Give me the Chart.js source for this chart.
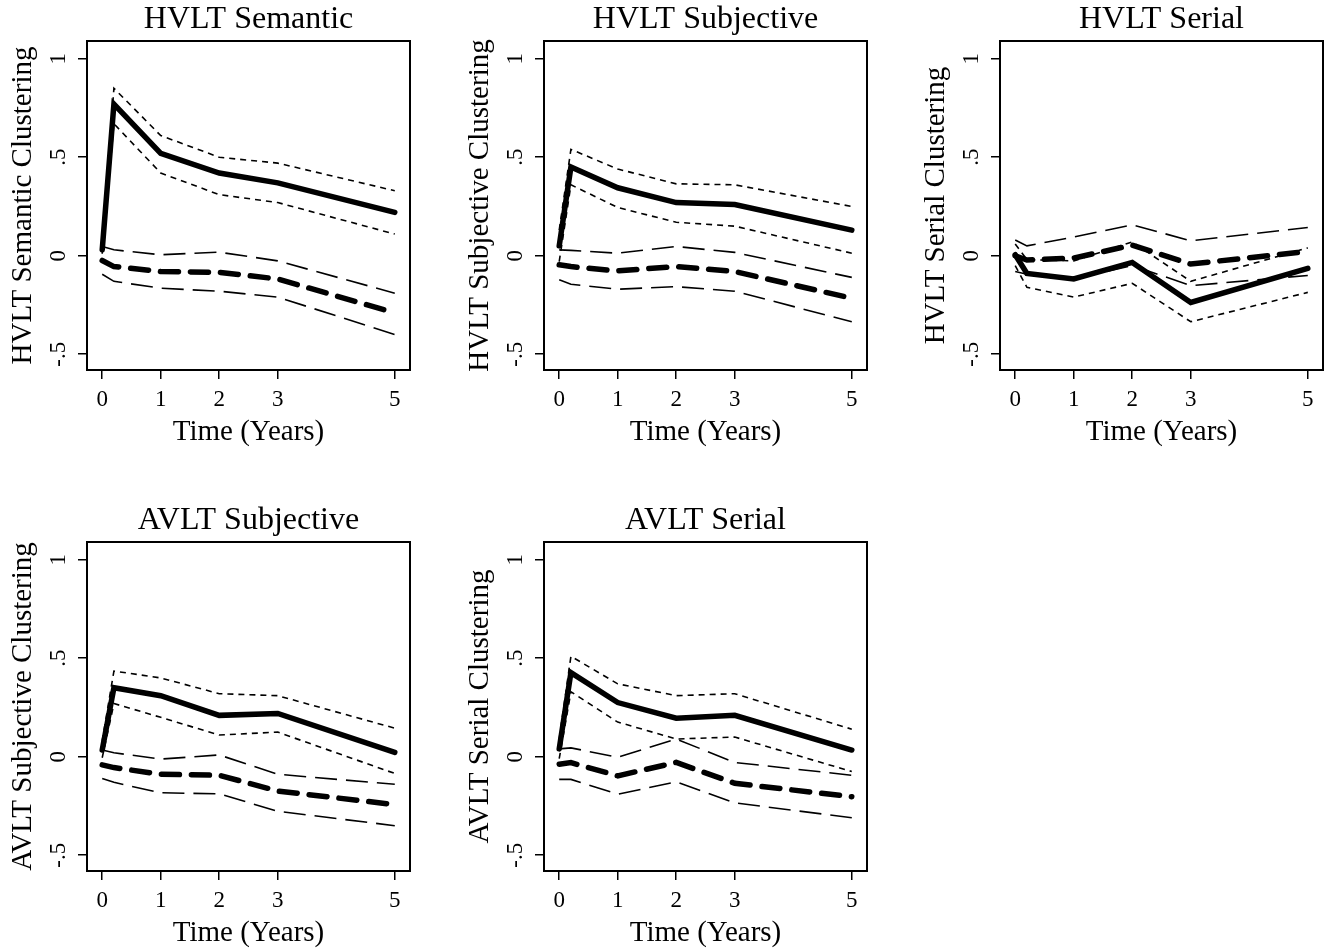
<!DOCTYPE html>
<html>
<head>
<meta charset="utf-8">
<script src="https://cdn.jsdelivr.net/npm/chart.js@4.4.1/dist/chart.umd.min.js"></script>
<style>
  html, body { margin: 0; padding: 0; background: #fff; overflow: hidden; }
  .panel { position: absolute; }
</style>
</head>
<body>
<div class="panel" style="left:0px;top:0px"><canvas id="c1" width="418" height="450"></canvas></div>
<div class="panel" style="left:457px;top:0px"><canvas id="c2" width="418" height="450"></canvas></div>
<div class="panel" style="left:913px;top:0px"><canvas id="c3" width="418" height="450"></canvas></div>
<div class="panel" style="left:0px;top:501px"><canvas id="c4" width="418" height="450"></canvas></div>
<div class="panel" style="left:457px;top:501px"><canvas id="c5" width="418" height="450"></canvas></div>
<script>
// Time points (years) and axis ticks
const timePoints = [0, 0.2, 1, 2, 3, 5];
const xTicks = [0, 1, 2, 3, 5];
const xTickLabels = ['0', '1', '2', '3', '5'];
const yTicks = [-0.5, 0, 0.5, 1];
const yTickLabels = ['-.5', '0', '.5', '1'];

// HVLT Semantic
const hvltSemanticA = [0.03, 0.77, 0.52, 0.42, 0.37, 0.22];
const hvltSemanticALo = [0.01, 0.67, 0.42, 0.31, 0.27, 0.11];
const hvltSemanticAHi = [0.05, 0.85, 0.61, 0.50, 0.47, 0.33];
const hvltSemanticB = [-0.024, -0.055, -0.08, -0.084, -0.118, -0.29];
const hvltSemanticBLo = [-0.094, -0.13, -0.165, -0.18, -0.21, -0.40];
const hvltSemanticBHi = [0.047, 0.03, 0.005, 0.018, -0.026, -0.19];

// HVLT Subjective
const hvltSubjectiveA = [0.05, 0.45, 0.345, 0.27, 0.26, 0.13];
const hvltSubjectiveALo = [-0.03, 0.36, 0.245, 0.17, 0.15, 0.013];
const hvltSubjectiveAHi = [0.13, 0.54, 0.44, 0.365, 0.36, 0.25];
const hvltSubjectiveB = [-0.046, -0.055, -0.077, -0.055, -0.08, -0.216];
const hvltSubjectiveBLo = [-0.122, -0.145, -0.17, -0.157, -0.18, -0.335];
const hvltSubjectiveBHi = [0.03, 0.027, 0.013, 0.047, 0.017, -0.11];

// HVLT Serial
const hvltSerialA = [0.005, -0.09, -0.118, -0.034, -0.237, -0.064];
const hvltSerialALo = [-0.05, -0.16, -0.21, -0.14, -0.335, -0.186];
const hvltSerialAHi = [0.06, -0.02, -0.026, 0.07, -0.13, 0.04];
const hvltSerialB = [0.0, -0.022, -0.012, 0.054, -0.042, 0.022];
const hvltSerialBLo = [-0.08, -0.094, -0.12, -0.049, -0.152, -0.10];
const hvltSerialBHi = [0.08, 0.05, 0.095, 0.157, 0.076, 0.143];

// AVLT Subjective
const avltSubjectiveA = [0.034, 0.35, 0.31, 0.21, 0.22, 0.022];
const avltSubjectiveALo = [-0.005, 0.27, 0.20, 0.11, 0.125, -0.085];
const avltSubjectiveAHi = [0.08, 0.435, 0.40, 0.32, 0.31, 0.145];
const avltSubjectiveB = [-0.041, -0.055, -0.089, -0.094, -0.174, -0.243];
const avltSubjectiveBLo = [-0.11, -0.13, -0.183, -0.188, -0.277, -0.35];
const avltSubjectiveBHi = [0.034, 0.02, -0.012, 0.009, -0.089, -0.14];

// AVLT Serial
const avltSerialA = [0.04, 0.427, 0.275, 0.196, 0.21, 0.034];
const avltSerialALo = [-0.01, 0.33, 0.176, 0.09, 0.10, -0.075];
const avltSerialAHi = [0.09, 0.51, 0.37, 0.31, 0.32, 0.14];
const avltSerialB = [-0.038, -0.03, -0.097, -0.029, -0.135, -0.203];
const avltSerialBLo = [-0.115, -0.115, -0.19, -0.128, -0.234, -0.31];
const avltSerialBHi = [0.04, 0.045, -0.003, 0.09, -0.029, -0.094];

const panels = [
  { id: 'c1', title: 'HVLT Semantic', yTitle: 'HVLT Semantic Clustering',
    a: hvltSemanticA, aLo: hvltSemanticALo, aHi: hvltSemanticAHi, b: hvltSemanticB, bLo: hvltSemanticBLo, bHi: hvltSemanticBHi },
  { id: 'c2', title: 'HVLT Subjective', yTitle: 'HVLT Subjective Clustering',
    a: hvltSubjectiveA, aLo: hvltSubjectiveALo, aHi: hvltSubjectiveAHi, b: hvltSubjectiveB, bLo: hvltSubjectiveBLo, bHi: hvltSubjectiveBHi },
  { id: 'c3', title: 'HVLT Serial', yTitle: 'HVLT Serial Clustering',
    a: hvltSerialA, aLo: hvltSerialALo, aHi: hvltSerialAHi, b: hvltSerialB, bLo: hvltSerialBLo, bHi: hvltSerialBHi },
  { id: 'c4', title: 'AVLT Subjective', yTitle: 'AVLT Subjective Clustering',
    a: avltSubjectiveA, aLo: avltSubjectiveALo, aHi: avltSubjectiveAHi, b: avltSubjectiveB, bLo: avltSubjectiveBLo, bHi: avltSubjectiveBHi },
  { id: 'c5', title: 'AVLT Serial', yTitle: 'AVLT Serial Clustering',
    a: avltSerialA, aLo: avltSerialALo, aHi: avltSerialAHi, b: avltSerialB, bLo: avltSerialBLo, bHi: avltSerialBHi }
];

Chart.defaults.font.family = "'Liberation Serif', 'Times New Roman', serif";
Chart.defaults.color = '#000';

// box around the plot area
const frame = {
  id: 'frame',
  afterDraw(chart) {
    const { ctx, chartArea: a } = chart;
    ctx.save();
    ctx.strokeStyle = '#000';
    ctx.lineWidth = 2;
    ctx.strokeRect(a.left, a.top, a.right - a.left, a.bottom - a.top);
    ctx.restore();
  }
};

function toPoints(vals) {
  return timePoints.map((t, i) => ({ x: t, y: vals[i] }));
}

function makeChart(p) {
  const ctx = document.getElementById(p.id).getContext('2d');
  new Chart(ctx, {
    type: 'line',
    data: {
      datasets: [
        { data: toPoints(p.a), borderColor: '#000', borderWidth: 5.5, borderJoinStyle: 'miter', borderCapStyle: 'round' },
        { data: toPoints(p.b), borderColor: '#000', borderWidth: 5.5, borderDash: [18, 12], borderCapStyle: 'round' },
        { data: toPoints(p.aHi), borderColor: '#000', borderWidth: 1.6, borderDash: [6, 5] },
        { data: toPoints(p.aLo), borderColor: '#000', borderWidth: 1.6, borderDash: [6, 5] },
        { data: toPoints(p.bHi), borderColor: '#000', borderWidth: 1.6, borderDash: [22, 9] },
        { data: toPoints(p.bLo), borderColor: '#000', borderWidth: 1.6, borderDash: [22, 9] }
      ]
    },
    options: {
      responsive: false,
      animation: false,
      layout: { padding: { left: 0, right: 8, top: 0, bottom: 0 } },
      elements: { point: { radius: 0 }, line: { tension: 0, fill: false } },
      plugins: {
        colors: { enabled: false },
        legend: { display: false },
        tooltip: { enabled: false },
        title: {
          display: true, text: p.title, fullSize: false, color: '#000',
          font: { size: 32, weight: 'normal' },
          padding: { top: 0, bottom: 2.6 }
        }
      },
      scales: {
        x: {
          type: 'linear', min: -0.26, max: 5.26,
          afterFit: s => { s.height = 80; },
          afterBuildTicks: s => { s.ticks = xTicks.map(v => ({ value: v })); },
          ticks: { callback: (v, i) => xTickLabels[i], color: '#000', font: { size: 23 }, padding: 7, autoSkip: false, maxRotation: 0 },
          grid: { drawOnChartArea: false, tickLength: 9, color: '#000', lineWidth: 1.5 },
          border: { display: false },
          title: { display: true, text: 'Time (Years)', color: '#000', font: { size: 29 }, padding: { top: 0, bottom: 0.6 } }
        },
        y: {
          type: 'linear', min: -0.58, max: 1.09,
          afterFit: s => { s.width = 87; },
          afterBuildTicks: s => { s.ticks = yTicks.map(v => ({ value: v })); },
          ticks: { callback: (v, i) => yTickLabels[i], color: '#000', font: { size: 23 }, padding: 7, minRotation: 90, maxRotation: 90, crossAlign: 'center', autoSkip: false },
          grid: { drawOnChartArea: false, tickLength: 9, color: '#000', lineWidth: 1.5 },
          border: { display: false },
          title: { display: true, text: p.yTitle, color: '#000', font: { size: 29 }, padding: { top: 5.9, bottom: 0 } }
        }
      }
    },
    plugins: [frame]
  });
}

panels.forEach(makeChart);
</script>
</body>
</html>
